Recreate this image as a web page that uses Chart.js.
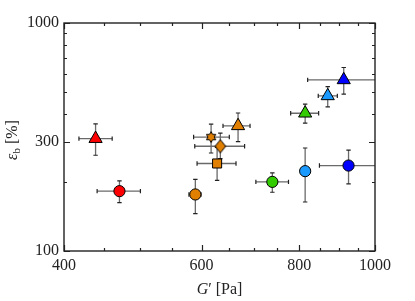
<!DOCTYPE html>
<html>
<head>
<meta charset="utf-8">
<script src="https://cdn.jsdelivr.net/npm/chart.js@4"></script>
<style>
  html, body { margin: 0; padding: 0; background: #fff; }
  #wrap { width: 415px; height: 301px; }
</style>
</head>
<body>
<div id="wrap"><canvas id="c"></canvas></div>
<script>
// Storage modulus G' [Pa] and elongation at break eps_b [%], one entry per sample
const gModulus      = [439, 471, 589, 617, 634, 628, 668, 739, 814, 925, 814, 870, 912];
const gLow          = [418, 441, 578, 586, 588, 592, 639, 704, 814, 849, 780, 846, 820];
const gHigh         = [461, 501, 599, 651, 681, 664, 692, 775, 814, 1060, 847, 895, 1060];
const strainBreak   = [311, 183, 177, 316, 288, 242, 354, 201, 224, 237, 402, 479, 563];
const strainLow     = [263, 163, 146, 269, 254, 204, 302, 181, 164, 197, 364, 429, 488];
const strainHigh    = [361, 203, 206, 360, 329, 285, 403, 220, 283, 277, 441, 526, 638];
const markerShapes  = ['triangle', 'circle', 'circle', 'star', 'diamond', 'rect', 'triangle',
                       'circle', 'circle', 'circle', 'triangle', 'triangle', 'triangle'];
const markerColors  = ['#ff0000', '#ff0000', '#e07f00', '#e07f00', '#e07f00', '#e07f00', '#e07f00',
                       '#33cc00', '#1a99ff', '#0000ff', '#33cc00', '#1a99ff', '#0000ff'];

const xTickValues = [400, 450, 500, 550, 600, 650, 700, 750, 800, 850, 900, 950, 1000];
const xTickLabels = [400, 600, 800, 1000];
const yTickValues = [100, 200, 300, 400, 500, 600, 700, 800, 900, 1000];
const yTickLabels = [100, 300, 1000];

const FONT = "'Liberation Serif', 'DejaVu Serif', serif";

// small sprites for the shapes Chart.js does not have
function sprite(w, h, drawPath, fill) {
    const cv = document.createElement('canvas');
    cv.width = w; cv.height = h;
    const g = cv.getContext('2d');
    g.beginPath();
    drawPath(g, w / 2, h / 2);
    g.closePath();
    g.fillStyle = fill;
    g.fill();
    g.lineWidth = 1;
    g.strokeStyle = '#000';
    g.stroke();
    return cv;
}

function hexagram(g, cx, cy) {
    const R = 5.4, r = R / Math.sqrt(3);
    for (let k = 0; k < 12; k++) {
        const rad = k % 2 === 0 ? R : r;
        const a = -Math.PI / 2 + k * Math.PI / 6;
        const px = cx + rad * Math.cos(a), py = cy + rad * Math.sin(a);
        k === 0 ? g.moveTo(px, py) : g.lineTo(px, py);
    }
}

function diamond(g, cx, cy) {
    g.moveTo(cx, cy - 6.6);
    g.lineTo(cx + 5.3, cy);
    g.lineTo(cx, cy + 6.6);
    g.lineTo(cx - 5.3, cy);
}

const pointStyles = markerShapes.map((s, i) => {
    if (s === 'star') return sprite(14, 14, hexagram, markerColors[i]);
    if (s === 'diamond') return sprite(14, 16, diamond, markerColors[i]);
    return s;
});
const pointRadii = markerShapes.map(s => s === 'triangle' ? 7.6 : s === 'rect' ? 6.4 : 5.6);

const errorBars = {
    id: 'errorBars',
    beforeDatasetsDraw(chart) {
        const { ctx, chartArea: a, scales: { x, y } } = chart;
        ctx.save();
        ctx.beginPath();
        ctx.rect(a.left, a.top, a.right - a.left, a.bottom - a.top);
        ctx.clip();
        const cap = 2.2;
        gModulus.forEach((g, i) => {
            const px = x.getPixelForValue(g), py = y.getPixelForValue(strainBreak[i]);
            const x0 = x.getPixelForValue(gLow[i]), x1 = x.getPixelForValue(gHigh[i]);
            const y0 = y.getPixelForValue(strainLow[i]), y1 = y.getPixelForValue(strainHigh[i]);
            ctx.lineWidth = 1.3;
            ctx.strokeStyle = '#6a6a6a';
            ctx.beginPath();
            ctx.moveTo(x0, py); ctx.lineTo(x1, py);
            ctx.moveTo(px, y0); ctx.lineTo(px, y1);
            ctx.stroke();
            ctx.strokeStyle = '#222';
            ctx.lineWidth = 1.2;
            ctx.beginPath();
            if (x1 - x0 > 1) {
                ctx.moveTo(x0, py - cap); ctx.lineTo(x0, py + cap);
                ctx.moveTo(x1, py - cap); ctx.lineTo(x1, py + cap);
            }
            ctx.moveTo(px - cap, y0); ctx.lineTo(px + cap, y0);
            ctx.moveTo(px - cap, y1); ctx.lineTo(px + cap, y1);
            ctx.stroke();
        });
        ctx.restore();
    }
};

// box frame with inward ticks on all four sides, plus the axis titles
const frame = {
    id: 'frame',
    afterDraw(chart) {
        const { ctx, chartArea: a, scales: { x, y } } = chart;
        ctx.save();
        ctx.strokeStyle = '#222';
        ctx.lineWidth = 1.2;
        ctx.beginPath();
        xTickValues.forEach(v => {
            const p = Math.round(x.getPixelForValue(v)) + 0.5;
            const len = xTickLabels.includes(v) ? 6 : 3;
            ctx.moveTo(p, a.bottom); ctx.lineTo(p, a.bottom - len);
            ctx.moveTo(p, a.top); ctx.lineTo(p, a.top + len);
        });
        yTickValues.forEach(v => {
            const p = Math.round(y.getPixelForValue(v)) + 0.5;
            const len = yTickLabels.includes(v) ? 6 : 3;
            ctx.moveTo(a.left, p); ctx.lineTo(a.left + len, p);
            ctx.moveTo(a.right, p); ctx.lineTo(a.right - len, p);
        });
        ctx.stroke();
        ctx.lineWidth = 1.4;
        ctx.strokeRect(a.left, a.top, a.right - a.left, a.bottom - a.top);

        ctx.fillStyle = '#222';
        ctx.textBaseline = 'alphabetic';
        // x title: G' [Pa]
        const parts = [
            { t: 'G', f: 'italic 16px ' + FONT },
            { t: '\u2032', f: '16px ' + FONT },
            { t: ' [Pa]', f: '16px ' + FONT }
        ];
        let total = 0;
        parts.forEach(p => { ctx.font = p.f; p.w = ctx.measureText(p.t).width; total += p.w; });
        let cx = (a.left + a.right) / 2 - total / 2;
        parts.forEach(p => { ctx.font = p.f; ctx.fillText(p.t, cx, 294); cx += p.w; });

        // y title: eps_b [%]
        ctx.translate(17, 140);
        ctx.rotate(-Math.PI / 2);
        const yParts = [
            { t: '\u03b5', f: 'italic 16px ' + FONT, dy: 0 },
            { t: 'b', f: '11px ' + FONT, dy: 3 },
            { t: ' [%]', f: '16px ' + FONT, dy: 0 }
        ];
        total = 0;
        yParts.forEach(p => { ctx.font = p.f; p.w = ctx.measureText(p.t).width; total += p.w; });
        cx = -total / 2;
        yParts.forEach(p => { ctx.font = p.f; ctx.fillText(p.t, cx, p.dy); cx += p.w; });
        ctx.restore();
    }
};

new Chart(document.getElementById('c'), {
    type: 'scatter',
    data: {
        datasets: [{
            data: gModulus.map((g, i) => ({ x: g, y: strainBreak[i] })),
            pointStyle: pointStyles,
            pointRadius: pointRadii,
            pointBackgroundColor: markerColors,
            pointBorderColor: '#000',
            pointBorderWidth: 1
        }]
    },
    options: {
        responsive: true,
        maintainAspectRatio: false,
        animation: false,
        events: [],
        layout: { padding: { left: 0, right: 40, top: 23, bottom: 0 } },
        plugins: { legend: { display: false }, tooltip: { enabled: false } },
        scales: {
            x: {
                type: 'logarithmic',
                min: 400,
                max: 1000,
                grid: { display: false, drawTicks: false },
                border: { display: false },
                afterBuildTicks: s => { s.ticks = xTickValues.map(v => ({ value: v })); },
                afterFit: s => { s.height = 50; },
                ticks: {
                    autoSkip: false,
                    maxRotation: 0,
                    padding: 5,
                    color: '#222',
                    font: { family: FONT, size: 16 },
                    callback: v => xTickLabels.includes(v) ? String(v) : ''
                }
            },
            y: {
                type: 'logarithmic',
                min: 100,
                max: 1000,
                grid: { display: false, drawTicks: false },
                border: { display: false },
                afterBuildTicks: s => { s.ticks = yTickValues.map(v => ({ value: v })); },
                afterFit: s => { s.width = 64; },
                ticks: {
                    autoSkip: false,
                    padding: 5,
                    color: '#222',
                    font: { family: FONT, size: 16 },
                    callback: v => yTickLabels.includes(v) ? String(v) : ''
                }
            }
        }
    },
    plugins: [errorBars, frame]
});
</script>
</body>
</html>
